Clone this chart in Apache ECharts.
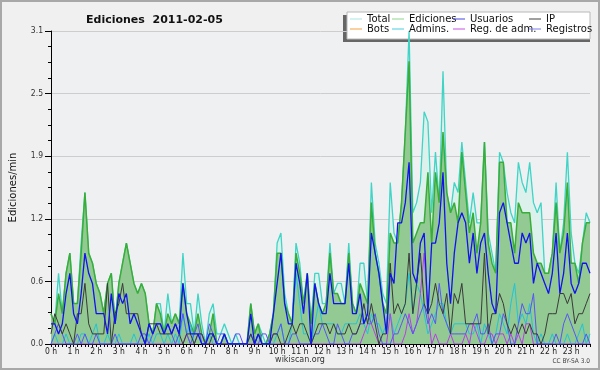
<!DOCTYPE html>
<html><head><meta charset="utf-8">
<script src="https://cdn.jsdelivr.net/npm/echarts@6/dist/echarts.min.js"></script>
<style>html,body{margin:0;padding:0;background:#f0f0f0}#c{width:600px;height:370px}</style>
</head><body><div id="c"></div>
<script>
const hourLabels = ['0 h','1 h','2 h','3 h','4 h','5 h','6 h','7 h','8 h','9 h','10 h','11 h','12 h','13 h','14 h','15 h','16 h','17 h','18 h','19 h','20 h','21 h','22 h','23 h'];
const minuteLabels = ['00','10','20','30','40','50'];
const yTicks = [0, 0.62, 1.24, 1.86, 2.48, 3.1];

const total = [
0.3,0.2,0.7,0.3,0.7,0.9,0.4,0.4,1.0,1.5,0.9,0.8,
0.6,0.5,0.3,0.6,0.7,0.2,0.6,0.8,1.0,0.8,0.6,0.5,
0.6,0.5,0.2,0.1,0.4,0.4,0.1,0.5,0.2,0.3,0.2,0.9,
0.4,0.4,0.1,0.5,0.2,0.0,0.3,0.4,0.1,0.1,0.2,0.1,
0.0,0.1,0.0,0.0,0.0,0.4,0.1,0.2,0.1,0.0,0.1,0.3,
1.0,1.1,0.5,0.3,0.2,1.0,0.8,0.4,0.7,0.2,0.7,0.7,
0.4,0.4,1.0,0.5,0.6,0.6,0.4,1.0,0.4,0.3,0.8,0.8,
0.4,1.6,1.0,0.8,0.5,0.4,1.6,1.1,1.0,1.4,2.1,3.1,
1.3,1.4,1.6,2.3,2.2,1.3,1.9,1.4,2.7,1.5,1.3,1.6,
1.5,2.0,1.6,1.2,1.5,1.2,1.2,2.0,1.1,0.9,0.7,1.9,
1.8,1.5,1.3,1.2,1.8,1.6,1.5,1.8,1.4,1.3,1.4,0.7,
0.7,0.9,1.6,0.9,1.2,1.9,1.1,0.8,0.7,1.0,1.3,1.2];

const ediciones = [
0.3,0.2,0.5,0.3,0.7,0.9,0.4,0.4,0.9,1.5,0.9,0.8,
0.6,0.5,0.3,0.6,0.7,0.2,0.6,0.8,1.0,0.8,0.6,0.5,
0.6,0.5,0.2,0.1,0.4,0.3,0.1,0.3,0.2,0.3,0.2,0.6,
0.3,0.2,0.1,0.3,0.1,0.0,0.1,0.3,0.0,0.0,0.1,0.0,
0.0,0.0,0.0,0.0,0.0,0.4,0.1,0.2,0.0,0.0,0.1,0.3,
0.9,0.9,0.4,0.3,0.2,0.9,0.7,0.4,0.7,0.2,0.6,0.4,
0.3,0.4,0.9,0.5,0.5,0.4,0.4,0.9,0.4,0.3,0.6,0.5,
0.4,1.4,0.9,0.7,0.4,0.3,1.1,1.0,1.0,1.4,2.1,2.8,
1.0,1.1,1.2,1.2,1.7,1.0,1.7,1.4,2.1,1.5,1.3,1.4,
1.2,1.9,1.5,1.1,1.3,0.9,1.2,2.0,1.0,0.8,0.7,1.8,
1.8,1.2,1.2,0.9,1.4,1.3,1.3,1.3,0.9,0.8,0.8,0.7,
0.7,0.9,1.4,0.9,1.1,1.6,0.8,0.8,0.6,1.0,1.2,1.2];

const usuarios = [
0.2,0.2,0.1,0.2,0.5,0.7,0.3,0.2,0.5,0.9,0.7,0.6,
0.3,0.3,0.3,0.1,0.5,0.2,0.5,0.4,0.5,0.2,0.3,0.2,
0.1,0.0,0.2,0.1,0.2,0.2,0.1,0.2,0.1,0.2,0.1,0.6,
0.3,0.1,0.1,0.1,0.0,0.0,0.1,0.1,0.0,0.0,0.1,0.0,
0.0,0.0,0.0,0.0,0.0,0.3,0.0,0.1,0.0,0.0,0.0,0.3,
0.6,0.9,0.4,0.2,0.2,0.8,0.6,0.3,0.7,0.0,0.6,0.4,
0.3,0.3,0.7,0.4,0.4,0.4,0.4,0.8,0.3,0.3,0.5,0.2,
0.3,1.1,0.9,0.7,0.4,0.1,0.7,0.6,1.2,1.2,1.4,1.8,
0.7,0.6,1.0,1.1,0.3,1.0,1.0,1.2,1.7,0.8,0.4,0.9,
1.2,1.3,1.2,0.8,1.1,0.7,1.0,1.1,0.7,0.4,0.3,1.3,
1.4,1.2,1.0,0.8,0.8,1.1,1.0,1.1,0.6,0.8,0.7,0.6,
0.5,0.7,1.1,0.5,0.7,1.1,0.6,0.5,0.6,0.8,0.8,0.7];

const ip = [
0.1,0.3,0.2,0.1,0.2,0.1,0.0,0.3,0.3,0.6,0.2,0.1,
0.1,0.1,0.1,0.6,0.0,0.3,0.4,0.6,0.3,0.3,0.3,0.3,
0.1,0.0,0.2,0.2,0.2,0.1,0.1,0.1,0.1,0.2,0.1,0.0,
0.1,0.1,0.0,0.1,0.1,0.0,0.0,0.1,0.0,0.0,0.0,0.0,
0.0,0.0,0.0,0.0,0.0,0.1,0.0,0.1,0.0,0.0,0.0,0.1,
0.1,0.0,0.0,0.1,0.2,0.1,0.2,0.2,0.1,0.0,0.1,0.2,
0.2,0.2,0.1,0.2,0.1,0.1,0.1,0.2,0.1,0.1,0.2,0.4,
0.2,0.4,0.2,0.0,0.1,0.1,0.8,0.3,0.4,0.3,0.4,0.9,
0.3,0.6,0.9,0.4,0.3,0.4,0.6,0.4,0.3,0.5,0.1,0.5,
0.4,0.6,0.2,0.2,0.2,0.2,0.2,0.9,0.1,0.3,0.3,0.5,
0.4,0.2,0.1,0.2,0.1,0.2,0.1,0.2,0.1,0.1,0.0,0.1,
0.3,0.3,0.3,0.5,0.5,0.4,0.5,0.2,0.3,0.3,0.4,0.5];

const bots = [];

const admins = [
0.0,0.1,0.0,0.0,0.1,0.0,0.0,0.0,0.1,0.1,0.0,0.1,
0.2,0.0,0.0,0.1,0.0,0.0,0.1,0.0,0.0,0.0,0.1,0.0,
0.0,0.0,0.1,0.0,0.1,0.1,0.0,0.1,0.0,0.1,0.0,0.3,
0.1,0.2,0.0,0.1,0.1,0.0,0.1,0.0,0.0,0.0,0.1,0.0,
0.0,0.0,0.0,0.0,0.0,0.1,0.0,0.1,0.0,0.0,0.0,0.0,
0.1,0.2,0.0,0.0,0.2,0.7,0.4,0.1,0.1,0.0,0.2,0.4,
0.2,0.2,0.2,0.2,0.1,0.1,0.2,0.2,0.2,0.2,0.3,0.2,
0.1,0.3,0.2,0.2,0.1,0.2,0.3,0.1,0.2,0.3,0.4,0.7,
0.3,0.6,0.5,0.3,0.1,0.2,0.3,0.4,0.4,0.2,0.1,0.2,
0.2,0.2,0.2,0.1,0.1,0.2,0.0,0.2,0.1,0.0,0.1,0.3,
0.2,0.1,0.4,0.6,0.2,0.3,0.2,0.4,0.1,0.0,0.1,0.0,
0.0,0.1,0.0,0.0,0.0,0.1,0.0,0.0,0.1,0.2,0.0,0.1];

const regAdm = [
0,0,0,0,0,0,0,0,0,0,0,0,
0,0,0,0,0,0,0,0,0,0,0,0,
0,0,0,0,0,0,0,0,0,0,0,0,
0.1,0,0,0.1,0.1,0,0,0,0,0,0,0,
0,0,0,0,0,0,0,0,0,0,0,0,
0,0,0,0,0,0,0,0,0,0,0,0,
0,0,0,0,0,0,0,0,0,0,0,0.1,
0.2,0.2,0.1,0,0,0,0.3,0,0,0,0.1,0.3,
0.1,0.2,0.5,0.9,0.3,0,0.1,0,0,0,0.1,0,
0,0,0.1,0,0.2,0.1,0,0,0.1,0.1,0,0.1,
0.1,0,0.1,0,0.1,0,0.2,0.2,0,0,0,0,
0,0,0,0,0,0,0,0,0,0,0,0];

const registros = [
0.0,0.1,0.2,0.1,0.0,0.0,0.0,0.1,0.0,0.1,0.0,0.0,
0.1,0.0,0.0,0.0,0.0,0.1,0.0,0.0,0.0,0.0,0.0,0.0,
0.1,0.1,0.0,0.1,0.2,0.2,0.1,0.2,0.1,0.0,0.1,0.3,
0.1,0.0,0.1,0.2,0.0,0.0,0.2,0.1,0.0,0.1,0.1,0.0,
0.0,0.1,0.1,0.0,0.0,0.1,0.0,0.0,0.1,0.1,0.0,0.1,
0.1,0.2,0.0,0.0,0.1,0.1,0.0,0.0,0.0,0.0,0.1,0.1,
0.2,0.1,0.0,0.0,0.2,0.1,0.0,0.0,0.1,0.1,0.2,0.2,
0.3,0.2,0.3,0.1,0.0,0.0,0.0,0.1,0.1,0.2,0.3,0.2,
0.1,0.2,0.3,0.4,0.2,0.3,0.2,0.6,0.3,0.2,0.1,0.1,
0.1,0.1,0.1,0.2,0.2,0.3,0.1,0.1,0.2,0.0,0.1,0.1,
0.3,0.2,0.0,0.0,0.2,0.4,0.3,0.3,0.5,0.0,0.0,0.0,
0.0,0.0,0.1,0.0,0.2,0.3,0.2,0.1,0.0,0.0,0.1,0.0];

const categories = [];
hourLabels.forEach(h => minuteLabels.forEach(m => categories.push(h + ':' + m)));

const FONT = 'DejaVu Sans';
const COND = '"DejaVu Sans Condensed", "DejaVu Sans"';

const legendItems = [
  {name:'Total', color:'#a8e6e0', left:350, top:14},
  {name:'Ediciones', color:'#8cd48c', left:392, top:14},
  {name:'Usuarios', color:'#4444e6', left:453, top:14},
  {name:'IP', color:'#404040', left:529, top:14},
  {name:'Bots', color:'#f4a040', left:350, top:24},
  {name:'Admins.', color:'#44cce0', left:392, top:24},
  {name:'Reg. de adm.', color:'#c84ee8', left:453, top:24},
  {name:'Registros', color:'#7c7cf2', left:529, top:24}
];

function lineSeries(name, data, color, width, z, area) {
  const s = {
    name, type: 'line', data, showSymbol: false, symbol: 'none', z,
    lineStyle: {color, width}, itemStyle: {color},
    emphasis: {disabled: true}, animation: false
  };
  if (area) s.areaStyle = {color: area, opacity: 1};
  return s;
}

const chart = echarts.init(document.getElementById('c'), null, {renderer: 'canvas'});
chart.setOption({
  backgroundColor: '#f0f0f0',
  animation: false,
  title: {
    text: 'Ediciones  2011-02-05', left: 81, top: 10,
    textStyle: {fontFamily: FONT, fontWeight: 'bold', fontSize: 11, color: '#111'}
  },
  grid: {left: 45, right: 10, top: 31, bottom: 26, show: true, backgroundColor: '#eef0f2', borderWidth: 0},
  legend: legendItems.map(it => ({
    left: it.left, top: it.top, padding: 0, selectedMode: false,
    icon: 'rect', itemWidth: 12, itemHeight: 1, itemGap: 0,
    textStyle: {fontFamily: FONT, fontSize: 10, color: '#111', lineHeight: 10},
    data: [{name: it.name, itemStyle: {color: it.color}}]
  })),
  xAxis: {
    type: 'category', data: categories, boundaryGap: false,
    axisLine: {lineStyle: {color: '#000', width: 1}},
    axisTick: {interval: 0, length: 3, lineStyle: {color: '#000'}},
    axisLabel: {
      interval: idx => idx % 6 === 0,
      formatter: (v, idx) => hourLabels[Math.floor(idx / 6)],
      fontFamily: COND, fontSize: 8.5, color: '#222', margin: 3
    },
    splitLine: {show: false}
  },
  yAxis: {
    type: 'value', min: yTicks[0], max: yTicks[yTicks.length - 1], interval: yTicks[1],
    name: 'Ediciones/min', nameLocation: 'middle', nameRotate: 90, nameGap: 33,
    nameTextStyle: {fontFamily: FONT, fontSize: 10, color: '#111'},
    axisLine: {show: true, lineStyle: {color: '#000', width: 1}},
    axisTick: {show: true, length: 6, lineStyle: {color: '#000'}},
    minorTick: {show: true, splitNumber: 4, length: 3, lineStyle: {color: '#000'}},
    axisLabel: {formatter: v => v.toFixed(1), fontFamily: COND, fontSize: 8.5, color: '#333', margin: 8},
    splitLine: {show: true, lineStyle: {color: '#cdcdcd', width: 1}}
  },
  series: [
    lineSeries('Total', total, '#3fd4c6', 1.3, 1, '#dcf1ec'),
    lineSeries('Ediciones', ediciones, '#38ad38', 1.5, 2, '#93c993'),
    lineSeries('Bots', bots, '#f4a040', 1, 3),
    lineSeries('Admins.', admins, '#22c4d6', 1, 3),
    lineSeries('Reg. de adm.', regAdm, '#b83ee6', 1, 3),
    lineSeries('Registros', registros, '#5656f4', 1, 3),
    lineSeries('IP', ip, '#3a3a3a', 1, 4),
    lineSeries('Usuarios', usuarios, '#1212ee', 1.3, 5)
  ],
  graphic: [
    {type: 'rect', z: 0, shape: {x: 343, y: 15, width: 247, height: 27}, style: {fill: '#666'}},
    {type: 'rect', z: 1, shape: {x: 347, y: 12, width: 243, height: 27}, style: {fill: '#fff', stroke: '#b8b8b8', lineWidth: 1}},
    {type: 'text', z: 10, left: 'center', top: 356, style: {text: 'wikiscan.org', font: '8px "DejaVu Sans"', fill: '#333'}},
    {type: 'text', z: 10, right: 10, top: 358, style: {text: 'CC BY-SA 3.0', font: '6.5px "DejaVu Sans Condensed", "DejaVu Sans"', fill: '#444'}},
    {type: 'rect', z: 100, silent: true, shape: {x: 1, y: 1, width: 598, height: 368}, style: {fill: 'none', stroke: '#a8a8a8', lineWidth: 2}}
  ]
});
</script></body></html>
